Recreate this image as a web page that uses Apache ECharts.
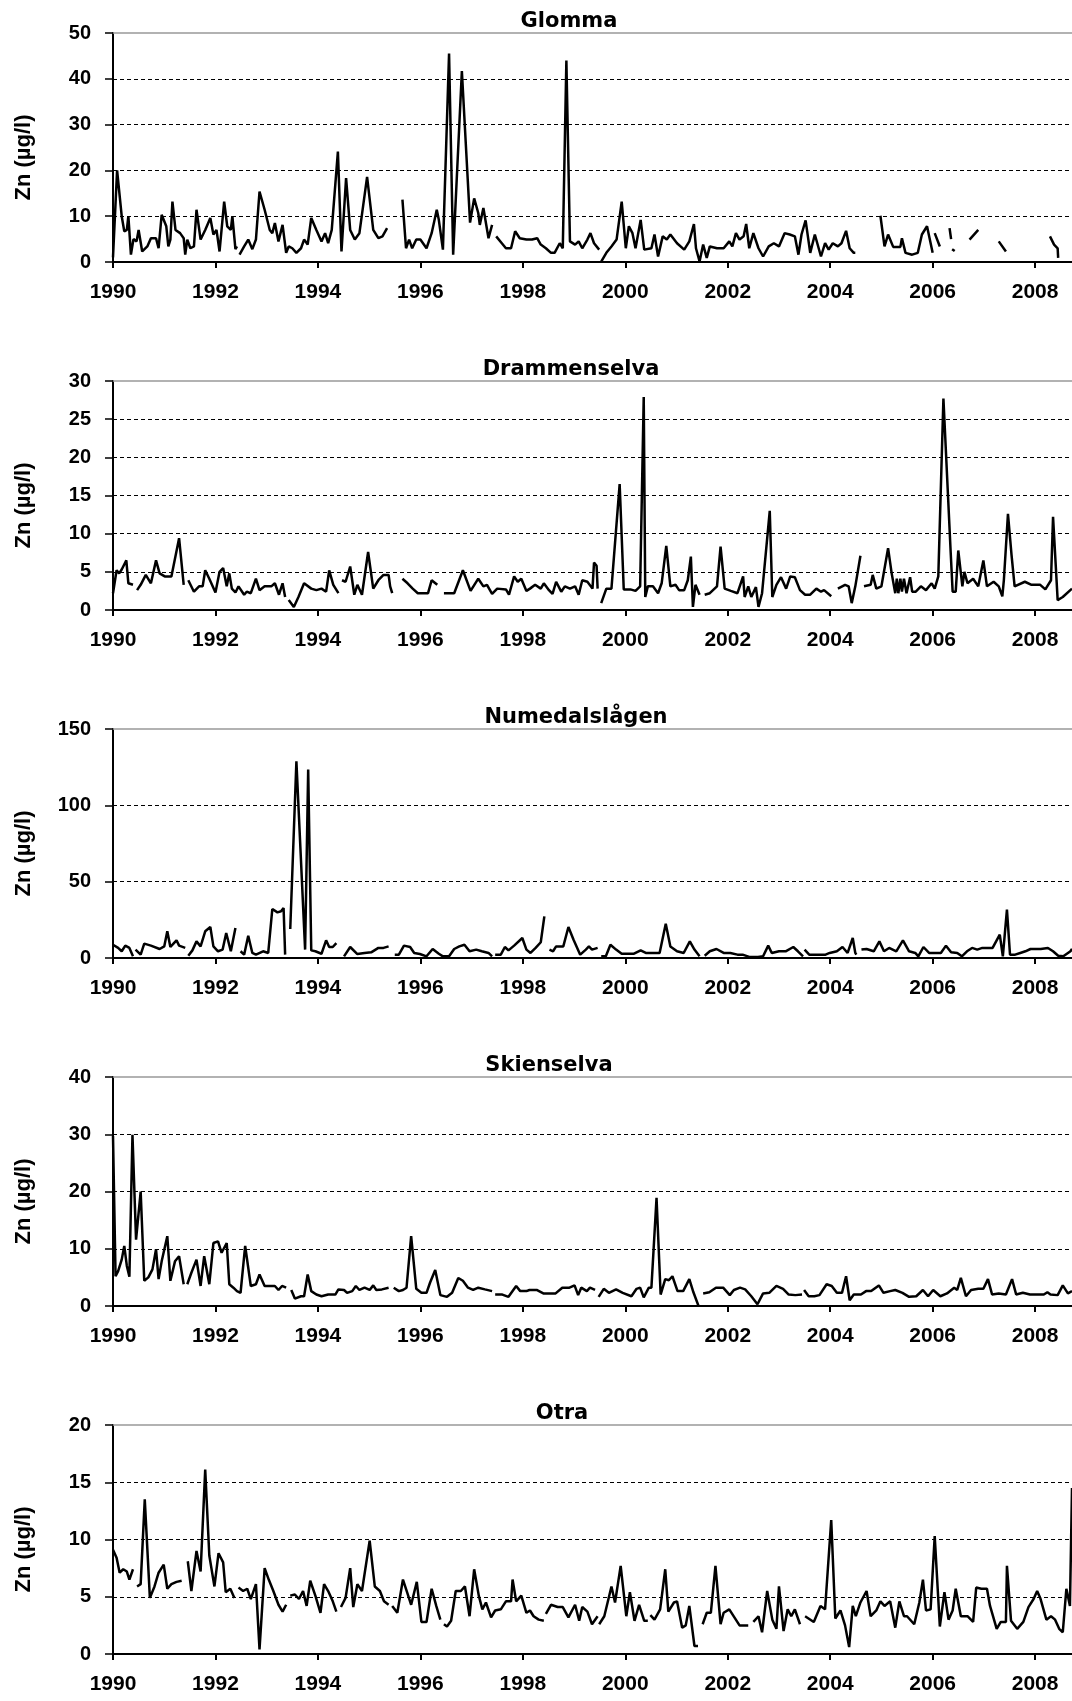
<!DOCTYPE html>
<html>
<head>
<meta charset="utf-8">
<title>Zn</title>
<script src="https://cdn.jsdelivr.net/npm/echarts@6.0.0/dist/echarts.min.js"></script>
<style>
	body{margin:0;background:#fff;}
	#main{width:1072px;height:1701px;}
</style>
</head>
<body>
<div id="main"></div>
<script>
//河流名称
var riverNames=["Glomma","Drammenselva","Numedalslågen","Skienselva","Otra"];
var yMax=[50,30,150,40,20];
var yStep=[10,5,50,10,5];
var yearTicks=[1990,1992,1994,1996,1998,2000,2002,2004,2006,2008];
var yName="Zn (µg/l)";

//[年, Zn µg/l]，null = 断开
var glomma=[[1990.00,1],[1990.08,20],[1990.17,10],[1990.22,6.7],[1990.27,7],[1990.30,10],[1990.35,1.6],[1990.40,5],[1990.46,4.5],[1990.50,7],[1990.57,2.3],[1990.67,3.4],[1990.74,5.2],[1990.84,5.2],[1990.89,3],[1990.95,10.3],
	[1991.04,7.8],[1991.08,3.4],[1991.12,4.9],[1991.16,13.2],[1991.22,7],[1991.31,6.3],[1991.38,5.2],[1991.41,1.6],[1991.45,4.9],[1991.51,3],[1991.58,3.4],[1991.63,11.4],[1991.71,4.9],[1991.80,7],[1991.90,9.6],[1991.96,6],
	[1992.02,7],[1992.08,2.3],[1992.17,13.2],[1992.23,7.8],[1992.30,7],[1992.33,10],[1992.39,2.8],[1992.42,3.4],[1992.44,null],[1992.47,1.6],[1992.56,3.4],[1992.64,4.9],[1992.72,2.8],[1992.79,4.9],[1992.86,15.4],[1992.96,11.4],
	[1993.06,7],[1993.11,6.3],[1993.16,8.5],[1993.23,4.5],[1993.31,8.1],[1993.38,2],[1993.43,3.4],[1993.50,3],[1993.58,2],[1993.67,3],[1993.73,4.9],[1993.80,3.8],[1993.87,9.6],[1993.97,7],
	[1994.07,4.5],[1994.14,6.3],[1994.20,4.1],[1994.27,7],[1994.39,24.1],[1994.46,2.3],[1994.55,18.3],[1994.63,7],[1994.72,4.9],[1994.81,6.3],[1994.96,18.6],
	[1995.08,7],[1995.18,5.2],[1995.26,5.6],[1995.35,7.4],[1995.50,null],[1995.65,13.6],[1995.72,3],[1995.78,4.9],[1995.84,3],[1995.92,4.9],
	[1996.00,4.9],[1996.12,3],[1996.22,6.3],[1996.32,11.4],[1996.36,9.2],[1996.44,2.7],[1996.56,45.5],[1996.64,1.6],[1996.81,41.7],[1996.97,8.6],
	[1997.05,13.9],[1997.13,10.7],[1997.16,8.1],[1997.23,11.8],[1997.33,5.2],[1997.40,8.1],[1997.44,null],[1997.48,5.6],[1997.59,4.1],[1997.67,3],[1997.77,3],[1997.85,6.7],[1997.94,5.2],
	[1998.07,4.9],[1998.18,4.9],[1998.28,5.2],[1998.35,3.8],[1998.45,3],[1998.55,2],[1998.62,2],[1998.72,4.1],[1998.78,3],[1998.85,44],[1998.92,4.5],
	[1999.02,3.8],[1999.09,4.5],[1999.16,3],[1999.26,4.9],[1999.32,6.3],[1999.39,4.1],[1999.49,2.7],[1999.51,null],[1999.53,0.1],[1999.63,2],[1999.73,3.4],[1999.83,4.9],[1999.93,13.2],
	[2000.01,3],[2000.07,7.8],[2000.14,6.3],[2000.20,3],[2000.30,9.2],[2000.37,2.7],[2000.51,3],[2000.57,6],[2000.64,1.2],[2000.73,5.6],[2000.81,4.9],[2000.88,6],
	[2001.01,4.1],[2001.15,2.7],[2001.25,4.5],[2001.34,8.3],[2001.38,3],[2001.45,0.1],[2001.52,3.8],[2001.59,0.9],[2001.65,3.4],[2001.79,3],[2001.92,3],
	[2002.03,4.5],[2002.09,3.4],[2002.16,6.3],[2002.23,4.9],[2002.31,5.6],[2002.36,8.3],[2002.42,3],[2002.50,6.3],[2002.60,3],[2002.69,1.2],[2002.80,3.4],[2002.90,4.1],
	[2003.00,3.4],[2003.11,6.3],[2003.21,6],[2003.31,5.6],[2003.38,1.6],[2003.44,6],[2003.52,9.1],[2003.61,2],[2003.70,6],[2003.82,1.2],[2003.90,4.1],[2003.97,2.7],
	[2004.05,4.1],[2004.15,3.4],[2004.22,4.1],[2004.31,6.8],[2004.38,3],[2004.46,2],[2004.49,2],[2004.70,null],[2004.98,10.1],
	[2005.06,3.4],[2005.13,6],[2005.23,3.3],[2005.37,3.3],[2005.40,5.2],[2005.47,2],[2005.60,1.6],[2005.71,2],[2005.79,6],[2005.89,7.8],
	[2006.00,2],[2006.02,null],[2006.04,6.3],[2006.14,3.4],[2006.20,null],[2006.33,7.4],[2006.36,5],[2006.37,null],[2006.38,2.8],[2006.43,2.4],[2006.60,null],[2006.72,4.9],[2006.89,7],[2007.00,null],
	[2007.29,4.5],[2007.43,2.3],[2007.80,null],[2008.29,5.6],[2008.37,3.8],[2008.44,3],[2008.45,0.9]];

var drammenselva=[[1990.00,2.2],[1990.07,5.2],[1990.12,4.8],[1990.17,5.3],[1990.26,6.5],[1990.30,3.5],[1990.39,3.3],[1990.43,null],[1990.47,2.6],[1990.54,3.3],[1990.64,4.6],[1990.74,3.5],[1990.84,6.5],[1990.91,4.8],
	[1991.01,4.4],[1991.14,4.4],[1991.29,9.4],[1991.38,3.3],[1991.42,null],[1991.47,3.9],[1991.58,2.4],[1991.68,3.1],[1991.75,3.1],[1991.80,5.2],[1991.88,4.1],
	[1992.00,2.3],[1992.08,5],[1992.15,5.5],[1992.22,3.1],[1992.27,4.8],[1992.32,2.8],[1992.39,2.3],[1992.45,3.1],[1992.56,2],[1992.61,2.4],[1992.69,2.2],[1992.79,4.1],[1992.86,2.6],[1992.96,3.1],
	[1993.09,3.1],[1993.16,3.5],[1993.24,2],[1993.31,3.5],[1993.36,1.7],[1993.40,null],[1993.43,1.3],[1993.53,0.4],[1993.62,1.7],[1993.73,3.5],[1993.87,2.8],[1993.97,2.6],
	[1994.07,2.8],[1994.16,2.4],[1994.22,5.2],[1994.30,3.3],[1994.40,2.2],[1994.44,null],[1994.47,3.9],[1994.54,3.7],[1994.63,5.7],[1994.71,2],[1994.77,3.3],[1994.86,2],[1994.98,7.6],
	[1995.08,2.8],[1995.18,3.9],[1995.28,4.6],[1995.38,4.6],[1995.41,3.1],[1995.45,2.2],[1995.55,null],[1995.65,4.1],[1995.75,3.5],[1995.85,2.8],[1995.95,2.2],
	[1996.15,2.2],[1996.22,3.9],[1996.33,3.3],[1996.40,null],[1996.46,2.2],[1996.66,2.2],[1996.83,5.2],[1996.98,2.5],
	[1997.13,4.1],[1997.23,3.1],[1997.30,3.3],[1997.40,2.1],[1997.50,2.8],[1997.67,2.7],[1997.73,2],[1997.83,4.4],[1997.90,3.7],[1997.97,4.1],
	[1998.07,2.5],[1998.14,2.8],[1998.24,3.3],[1998.35,2.8],[1998.41,3.5],[1998.51,2.6],[1998.58,2.1],[1998.65,3.7],[1998.75,2.4],[1998.82,3.1],[1998.92,2.8],
	[1999.02,3.1],[1999.09,2],[1999.16,3.9],[1999.26,3.7],[1999.36,2.8],[1999.39,6.2],[1999.44,5.8],[1999.46,2.8],[1999.49,null],[1999.53,0.9],[1999.63,2.8],[1999.73,2.8],[1999.89,16.5],[1999.97,2.7],
	[2000.10,2.7],[2000.20,2.5],[2000.29,3.1],[2000.36,27.9],[2000.39,1.7],[2000.44,3.1],[2000.54,3.1],[2000.64,2.2],[2000.71,3.5],[2000.80,8.4],[2000.88,3.1],[2000.98,3.3],
	[2001.05,2.6],[2001.15,2.6],[2001.22,3.9],[2001.28,7],[2001.32,0.4],[2001.37,3.3],[2001.45,2],[2001.50,null],[2001.55,2],[2001.65,2.2],[2001.79,3.1],[2001.86,8.3],[2001.94,2.8],
	[2002.06,2.5],[2002.19,2.2],[2002.30,4.4],[2002.33,1.7],[2002.40,3.1],[2002.46,1.7],[2002.55,3],[2002.60,0.4],[2002.67,2.2],[2002.82,13],[2002.87,1.7],[2002.95,3.3],
	[2003.04,4.3],[2003.14,2.8],[2003.22,4.4],[2003.31,4.3],[2003.41,2.6],[2003.51,2],[2003.61,2],[2003.73,2.8],[2003.82,2.4],[2003.88,2.6],
	[2004.02,1.8],[2004.08,null],[2004.15,2.8],[2004.29,3.3],[2004.36,3.1],[2004.42,0.9],[2004.49,3.1],[2004.59,7.1],[2004.62,null],[2004.66,3.1],[2004.79,3.3],[2004.83,4.6],[2004.90,2.8],
	[2005.00,3.1],[2005.13,8.1],[2005.20,4.8],[2005.27,2.2],[2005.30,4.1],[2005.33,2.2],[2005.37,4.1],[2005.40,2.4],[2005.44,4.1],[2005.49,2.2],[2005.56,4.3],[2005.60,2.4],[2005.67,2.4],[2005.77,3.1],[2005.87,2.6],[2005.98,3.5],
	[2006.04,2.8],[2006.11,4.4],[2006.21,27.7],[2006.35,7.8],[2006.39,2.4],[2006.45,2.4],[2006.50,7.8],[2006.58,3.1],[2006.62,5],[2006.68,3.5],[2006.79,4.1],[2006.89,3.1],[2006.99,6.5],
	[2007.06,3.1],[2007.19,3.7],[2007.29,3.1],[2007.36,1.8],[2007.39,3.9],[2007.47,12.6],[2007.54,7.2],[2007.60,3.1],[2007.80,3.7],[2007.93,3.3],
	[2008.10,3.3],[2008.20,2.7],[2008.31,3.9],[2008.35,12.2],[2008.44,1.3],[2008.54,1.7],[2008.72,2.8]];

var numedalslagen=[[1990.00,8.7],[1990.10,6.6],[1990.17,4.4],[1990.24,8.1],[1990.32,6.6],[1990.39,1.1],[1990.41,null],[1990.44,5.5],[1990.54,2.2],[1990.61,9.4],[1990.74,8.1],[1990.91,5.9],
	[1991.00,7.6],[1991.06,17.5],[1991.12,7.2],[1991.18,9.4],[1991.24,11.6],[1991.29,8.1],[1991.41,6.6],[1991.44,null],[1991.47,1.5],[1991.55,5],[1991.63,10.9],[1991.71,7.6],[1991.80,17.5],[1991.90,20.3],[1991.96,7.6],
	[1992.05,4.4],[1992.14,5.5],[1992.21,16.4],[1992.30,4.4],[1992.39,19.7],[1992.44,null],[1992.49,4.4],[1992.56,2.2],[1992.64,14.6],[1992.72,3.3],[1992.79,2.2],[1992.93,4.4],
	[1993.03,3.3],[1993.11,32.1],[1993.21,29.9],[1993.28,30.6],[1993.33,32.8],[1993.36,2.2],[1993.41,null],[1993.46,19],[1993.58,128.8],[1993.75,5.5],[1993.81,123.4],[1993.87,5],[1993.95,4.4],
	[1994.07,2.8],[1994.16,11.6],[1994.22,7.2],[1994.29,7.2],[1994.36,9.8],[1994.44,null],[1994.51,1.1],[1994.63,7.2],[1994.77,2.6],[1994.91,3.3],
	[1995.04,3.7],[1995.18,6.6],[1995.28,6.6],[1995.38,7.6],[1995.44,null],[1995.50,2.2],[1995.58,2.2],[1995.68,8.1],[1995.80,7.2],[1995.88,3.3],[1995.99,2.6],
	[1996.12,1.1],[1996.24,5.9],[1996.36,2.8],[1996.44,1.1],[1996.56,1.1],[1996.66,5.9],[1996.76,7.6],[1996.86,8.7],[1996.96,4.4],
	[1997.09,5.5],[1997.20,4.4],[1997.33,3.3],[1997.40,1.1],[1997.43,null],[1997.46,2.2],[1997.57,2.2],[1997.65,7.2],[1997.72,5],[1997.83,8.1],[1997.99,13.1],
	[1998.07,5.5],[1998.15,3.3],[1998.25,6.6],[1998.35,10.3],[1998.42,27.3],[1998.47,null],[1998.52,5.5],[1998.59,4.4],[1998.65,7.6],[1998.79,7.6],[1998.89,20.3],[1998.99,12],
	[1999.12,2.2],[1999.23,5.5],[1999.29,7.6],[1999.35,5.5],[1999.46,6.6],[1999.50,null],[1999.53,1.1],[1999.62,1.1],[1999.71,8.7],[1999.82,5.5],[1999.93,2.8],
	[2000.17,2.8],[2000.30,5],[2000.40,3.3],[2000.54,3.3],[2000.67,3.3],[2000.79,22.5],[2000.88,7.6],
	[2001.01,4.4],[2001.14,3.3],[2001.26,10.9],[2001.35,5.5],[2001.45,1.1],[2001.50,null],[2001.55,1.5],[2001.65,4.4],[2001.78,5.9],[2001.92,3.3],
	[2002.05,3.3],[2002.19,2.2],[2002.29,2.2],[2002.42,0.7],[2002.59,0.7],[2002.69,1.1],[2002.79,8.1],[2002.86,3.3],
	[2003.00,4.4],[2003.13,4.4],[2003.28,7.2],[2003.37,4.4],[2003.47,1.1],[2003.48,null],[2003.50,5.5],[2003.59,2.2],[2003.74,2.2],[2003.91,2.2],[2003.99,3.3],
	[2004.13,4.4],[2004.24,7.2],[2004.34,3.3],[2004.44,13.1],[2004.49,3.3],[2004.51,2.2],[2004.56,null],[2004.61,5.5],[2004.71,5.9],[2004.85,4.4],[2004.96,10.9],
	[2005.05,4.4],[2005.15,6.6],[2005.29,4.4],[2005.42,11.6],[2005.54,4.4],[2005.66,3.3],[2005.72,1.1],[2005.82,7.2],[2005.93,3.3],
	[2006.03,3.3],[2006.16,3.3],[2006.26,8.1],[2006.36,3.7],[2006.48,3.3],[2006.57,1.1],[2006.67,4.4],[2006.77,6.6],[2006.87,5.5],[2006.97,6.6],
	[2007.17,6.6],[2007.31,15.3],[2007.37,1.1],[2007.45,31.7],[2007.51,2.2],[2007.61,2.2],[2007.71,3.3],[2007.81,4.4],[2007.91,5.9],
	[2008.11,5.9],[2008.25,6.6],[2008.35,4.4],[2008.45,1.5],[2008.55,1.1],[2008.69,4.4],[2008.72,6]];

var skienselva=[[1990.00,29.7],[1990.05,5.2],[1990.10,6.1],[1990.17,8.1],[1990.22,10.5],[1990.27,7],[1990.32,5.1],[1990.38,29.9],[1990.45,11.6],[1990.54,20],[1990.61,4.4],[1990.69,5],[1990.77,6.4],[1990.84,9.9],[1990.89,4.7],[1990.95,7.8],
	[1991.06,12.2],[1991.12,4.4],[1991.21,7.8],[1991.29,8.7],[1991.38,3.8],[1991.41,null],[1991.45,3.8],[1991.53,5.8],[1991.63,8.1],[1991.71,3.5],[1991.78,8.7],[1991.88,3.8],[1991.96,11],
	[1992.05,11.3],[1992.12,9.3],[1992.22,11],[1992.27,3.8],[1992.35,3.2],[1992.42,2.6],[1992.49,2.3],[1992.58,10.5],[1992.69,3.5],[1992.79,3.8],[1992.86,5.5],[1992.96,3.5],
	[1993.06,3.5],[1993.16,3.5],[1993.23,2.8],[1993.30,3.5],[1993.38,3.2],[1993.43,null],[1993.48,2.8],[1993.55,1.3],[1993.67,1.7],[1993.73,1.7],[1993.80,5.5],[1993.87,2.6],[1993.97,2],
	[1994.07,1.7],[1994.20,2],[1994.34,2],[1994.40,2.9],[1994.51,2.8],[1994.57,2.3],[1994.67,2.6],[1994.74,3.5],[1994.81,2.8],[1994.91,3.2],
	[1995.01,2.8],[1995.08,3.6],[1995.14,2.8],[1995.25,2.9],[1995.38,3.2],[1995.43,null],[1995.48,3.2],[1995.58,2.6],[1995.66,2.8],[1995.73,3.2],[1995.82,12.2],[1995.92,3],
	[1996.02,2.3],[1996.12,2.3],[1996.19,4.1],[1996.29,6.3],[1996.39,1.9],[1996.52,1.6],[1996.62,2.3],[1996.74,4.9],[1996.83,4.4],[1996.93,3.2],
	[1997.03,2.8],[1997.13,3.2],[1997.26,2.9],[1997.40,2.6],[1997.43,null],[1997.46,2],[1997.60,2],[1997.72,1.6],[1997.87,3.5],[1997.95,2.6],
	[1998.07,2.6],[1998.13,2.8],[1998.27,2.8],[1998.40,2.2],[1998.64,2.2],[1998.77,3.2],[1998.91,3.2],
	[1999.01,3.6],[1999.08,1.9],[1999.14,3.2],[1999.25,2.6],[1999.31,3.2],[1999.41,2.8],[1999.45,null],[1999.48,1.6],[1999.58,3],[1999.68,2.3],[1999.82,2.9],[1999.95,2.3],
	[2000.12,1.7],[2000.22,3],[2000.29,3.2],[2000.36,1.5],[2000.46,3.2],[2000.51,3.2],[2000.61,18.9],[2000.69,2],[2000.78,4.7],[2000.85,4.5],[2000.92,5.2],
	[2001.02,2.6],[2001.13,2.6],[2001.25,4.7],[2001.33,2.4],[2001.43,0],[2001.48,null],[2001.52,2.2],[2001.64,2.4],[2001.77,3.2],[2001.91,3.2],
	[2002.04,1.9],[2002.12,2.8],[2002.24,3.2],[2002.34,2.9],[2002.46,1.7],[2002.58,0.3],[2002.69,2.2],[2002.81,2.3],[2002.95,3.5],
	[2003.08,3],[2003.19,2],[2003.32,1.9],[2003.45,2],[2003.47,null],[2003.49,2.8],[2003.58,1.7],[2003.69,1.7],[2003.79,1.9],[2003.93,3.8],
	[2004.03,3.5],[2004.13,2.3],[2004.23,2.3],[2004.31,5.2],[2004.38,1],[2004.46,2],[2004.60,2],[2004.70,2.6],[2004.80,2.6],[2004.95,3.6],
	[2005.04,2.3],[2005.17,2.6],[2005.27,2.8],[2005.41,2.3],[2005.54,1.6],[2005.68,1.7],[2005.81,2.8],[2005.91,1.7],
	[2006.01,2.8],[2006.15,1.7],[2006.28,2.2],[2006.42,3.2],[2006.48,2.8],[2006.55,4.9],[2006.65,1.7],[2006.75,2.8],[2006.89,3],[2006.99,3],
	[2007.08,4.7],[2007.16,2],[2007.29,2.2],[2007.43,2],[2007.55,4.7],[2007.63,2],[2007.76,2.3],[2007.90,2],
	[2008.03,2],[2008.17,2],[2008.24,2.4],[2008.30,2],[2008.44,1.9],[2008.54,3.6],[2008.64,2.2],[2008.72,2.6]];

var otra=[[1990.00,9.1],[1990.07,8.4],[1990.13,7.1],[1990.20,7.4],[1990.27,7.2],[1990.32,6.5],[1990.39,7.4],[1990.43,null],[1990.47,5.9],[1990.54,6.1],[1990.62,13.5],[1990.72,4.9],[1990.81,5.9],[1990.89,7.1],[1990.99,7.8],
	[1991.06,5.7],[1991.14,6.1],[1991.24,6.3],[1991.34,6.4],[1991.40,null],[1991.46,8.1],[1991.53,5.5],[1991.63,9],[1991.71,7.2],[1991.80,16.1],[1991.88,8.6],[1991.98,5.9],
	[1992.06,8.8],[1992.15,8],[1992.20,5.4],[1992.29,5.7],[1992.37,4.9],[1992.41,null],[1992.45,5.8],[1992.54,5.5],[1992.62,5.7],[1992.69,4.8],[1992.79,6.1],[1992.86,0.4],[1992.96,7.5],
	[1993.04,6.5],[1993.13,5.5],[1993.23,4.3],[1993.31,3.7],[1993.38,4.3],[1993.42,null],[1993.46,5.1],[1993.55,5.2],[1993.63,4.8],[1993.71,5.5],[1993.78,4.2],[1993.85,6.4],[1993.95,5.1],
	[1994.05,3.6],[1994.12,6.1],[1994.20,5.5],[1994.29,4.6],[1994.36,3.7],[1994.40,null],[1994.45,4.1],[1994.54,4.9],[1994.63,7.5],[1994.69,4.1],[1994.77,6.1],[1994.86,5.5],
	[1995.01,9.9],[1995.11,5.9],[1995.21,5.5],[1995.29,4.6],[1995.38,4.3],[1995.41,null],[1995.45,4.2],[1995.55,3.6],[1995.66,6.5],[1995.74,5.4],[1995.82,4.3],[1995.93,6.3],
	[1996.02,2.8],[1996.12,2.8],[1996.22,5.7],[1996.31,4.2],[1996.39,3],[1996.42,null],[1996.46,2.6],[1996.52,2.4],[1996.60,2.9],[1996.69,5.5],[1996.79,5.5],[1996.87,5.9],[1996.96,3.3],
	[1997.05,7.4],[1997.14,5.1],[1997.21,3.9],[1997.28,4.5],[1997.38,3.2],[1997.46,3.8],[1997.57,3.9],[1997.67,4.6],[1997.77,4.6],[1997.80,6.5],[1997.87,4.6],[1997.97,5.1],
	[1998.07,3.6],[1998.14,3.8],[1998.21,3.3],[1998.31,3],[1998.41,2.9],[1998.43,null],[1998.45,3.5],[1998.55,4.3],[1998.68,4.1],[1998.78,4.1],[1998.89,3.2],
	[1999.02,4.3],[1999.10,2.9],[1999.16,4.1],[1999.26,3.7],[1999.35,2.6],[1999.46,3.3],[1999.47,null],[1999.49,2.6],[1999.59,3.3],[1999.73,5.9],[1999.80,4.5],[1999.91,7.7],
	[2000.02,3.3],[2000.09,5.4],[2000.18,2.9],[2000.27,4.3],[2000.37,2.9],[2000.44,2.9],[2000.46,null],[2000.49,3.4],[2000.57,3],[2000.68,3.9],[2000.78,7.4],[2000.84,3.7],[2000.95,4.5],
	[2001.01,4.6],[2001.11,2.3],[2001.18,2.5],[2001.25,4.2],[2001.35,0.7],[2001.42,0.7],[2001.46,null],[2001.51,2.6],[2001.59,3.6],[2001.67,3.6],[2001.76,7.7],[2001.86,2.6],[2001.92,3.6],
	[2002.03,3.9],[2002.13,3.2],[2002.23,2.5],[2002.40,2.5],[2002.45,null],[2002.50,2.8],[2002.60,3.3],[2002.67,1.9],[2002.77,5.5],[2002.87,3],[2002.95,2.2],
	[2003.00,5.9],[2003.09,2],[2003.17,3.9],[2003.24,3.3],[2003.31,3.9],[2003.41,2.6],[2003.46,null],[2003.51,3.3],[2003.68,2.8],[2003.81,4.2],[2003.90,3.9],
	[2004.02,11.7],[2004.10,3.1],[2004.20,3.8],[2004.29,2.5],[2004.37,0.6],[2004.44,4.2],[2004.50,3.3],[2004.59,4.5],[2004.71,5.5],[2004.79,3.3],[2004.90,3.8],[2004.98,4.6],
	[2005.06,4.2],[2005.17,4.6],[2005.27,2.3],[2005.35,4.6],[2005.44,3.3],[2005.50,3.3],[2005.64,2.6],[2005.74,4.5],[2005.81,6.5],[2005.87,3.8],[2005.96,3.9],
	[2006.04,10.3],[2006.14,2.4],[2006.23,5.4],[2006.31,3],[2006.39,3.8],[2006.45,5.7],[2006.55,3.3],[2006.68,3.3],[2006.79,2.8],[2006.85,5.8],[2006.95,5.7],
	[2007.06,5.7],[2007.12,4.2],[2007.25,2.2],[2007.33,2.8],[2007.43,2.8],[2007.45,7.7],[2007.53,2.9],[2007.65,2.2],[2007.77,2.8],[2007.87,4.1],[2007.97,4.8],
	[2008.04,5.5],[2008.10,4.9],[2008.22,3],[2008.31,3.3],[2008.39,3],[2008.47,2.2],[2008.54,1.9],[2008.61,5.7],[2008.68,4.2],[2008.72,14.5]];

var riverData=[glomma,drammenselva,numedalslagen,skienselva,otra];

//布局
var gridTop=[33,381,729,1077,1425];
var gridH=229;
var titleX=[564,566,571,544,557];
var xMin=1990,xMax=2008.72;
var tickFont='"Liberation Sans", Arial, sans-serif';

$init();

function $init(){
	var myChart=echarts.init(document.getElementById("main"),null,{renderer:"canvas"});
	var grid=[],xAxis=[],yAxis=[],series=[],title=[];
	for(var i=0;i<riverNames.length;i++){
		grid.push({left:113,right:0,top:gridTop[i],height:gridH,containLabel:false});
		title.push({
			text:riverNames[i],
			left:titleX[i],
			top:gridTop[i]-27,
			textAlign:"center",
			textStyle:{fontFamily:'"DejaVu Sans", Verdana, sans-serif',fontSize:21,fontWeight:"bold",color:"#000"}
		});
		//下方年份轴
		xAxis.push({
			type:"value",gridIndex:i,min:xMin,max:xMax,interval:2,position:"bottom",
			axisLine:{show:true,onZero:false,lineStyle:{color:"#000",width:2}},
			axisTick:{show:true,length:6,lineStyle:{color:"#000",width:2},customValues:yearTicks},
			axisLabel:{show:true,margin:20,customValues:yearTicks,formatter:function(v){return String(Math.round(v));},
				fontFamily:tickFont,fontSize:21,fontWeight:"bold",color:"#000"},
			splitLine:{show:false}
		});
		//上边框
		xAxis.push({
			type:"value",gridIndex:i,min:xMin,max:xMax,position:"top",
			axisLine:{show:true,onZero:false,lineStyle:{color:"#999",width:1.5}},
			axisTick:{show:false},axisLabel:{show:false},splitLine:{show:false}
		});
		yAxis.push({
			type:"value",gridIndex:i,min:0,max:yMax[i],interval:yStep[i],
			name:yName,nameLocation:"middle",nameRotate:90,nameGap:78,
			nameTextStyle:{fontFamily:tickFont,fontSize:22,fontWeight:"bold",color:"#000",padding:[0,20,0,0]},
			axisLine:{show:true,lineStyle:{color:"#000",width:2}},
			axisTick:{show:true,length:8,lineStyle:{color:"#000",width:1.5}},
			axisLabel:{margin:22,fontFamily:tickFont,fontSize:20,fontWeight:"bold",color:"#000"},
			splitLine:{show:true,showMinLine:false,showMaxLine:false,lineStyle:{color:"#000",width:1,type:[4,3]}}
		});
		series.push({
			name:riverNames[i],type:"line",xAxisIndex:i*2,yAxisIndex:i,
			data:riverData[i],showSymbol:false,symbol:"none",connectNulls:false,
			lineStyle:{color:"#000",width:2.5},z:3
		});
	}
	var option={
		backgroundColor:"#fff",
		animation:false,
		title:title,
		grid:grid,
		xAxis:xAxis,
		yAxis:yAxis,
		series:series
	};
	myChart.setOption(option);
}
</script>
</body>
</html>
